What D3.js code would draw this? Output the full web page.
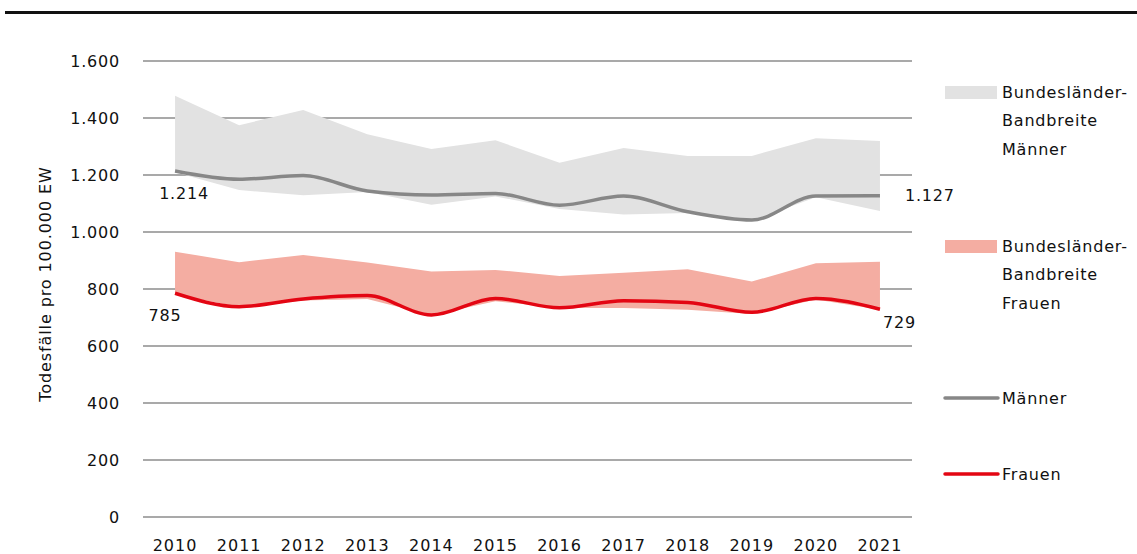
<!DOCTYPE html>
<html><head><meta charset="utf-8">
<script src="https://cdn.jsdelivr.net/npm/d3@7"></script>
<style>
html,body{margin:0;padding:0;background:#fff;}
text{font-family:"DejaVu Sans",sans-serif;fill:#111;}
</style></head>
<body><svg id="c" width="1137" height="554"></svg>
<script>
const years = [2010,2011,2012,2013,2014,2015,2016,2017,2018,2019,2020,2021];
const menUpper = [1478,1375,1428,1343,1291,1322,1243,1295,1267,1267,1329,1319];
const menLower = [1210,1147,1129,1140,1096,1125,1081,1061,1067,1040,1122,1074];
const menLine  = [1214,1185,1198,1144,1130,1135,1094,1126,1071,1042,1126,1127];
const womenUpper = [931,894,919,893,861,867,846,857,869,826,890,896];
const womenLower = [780,738,760,765,708,757,733,733,727,712,763,727];
const womenLine  = [785,738,765,777,709,767,734,759,753,718,767,729];
const yTicks = [0,200,400,600,800,1000,1200,1400,1600];
const legendItems = [
  {type:"rect", color:"#e2e2e2", lines:["Bundesländer-","Bandbreite","Männer"]},
  {type:"rect", color:"#f4ada2", lines:["Bundesländer-","Bandbreite","Frauen"]},
  {type:"line", color:"#878787", lines:["Männer"]},
  {type:"line", color:"#e30613", lines:["Frauen"]}
];

const svg = d3.select("#c");
const fmt = d3.format(",");
const de = v => fmt(v).replace(/,/g,".");

// top rule
svg.append("rect").attr("x",5).attr("y",11).attr("width",1132).attr("height",3).attr("fill","#111");

const x = d3.scalePoint().domain(years).range([143,912]).padding(0.5);
const y = d3.scaleLinear().domain([0,1600]).range([517,61]);

// gridlines
svg.append("g").selectAll("line").data(yTicks).join("line")
  .attr("x1",143).attr("x2",912).attr("y1",d=>y(d)).attr("y2",d=>y(d))
  .attr("stroke","#8c8c8c").attr("stroke-width",1.5);

// y tick labels
svg.append("g").selectAll("text").data(yTicks).join("text")
  .attr("x",120).attr("y",d=>y(d)).attr("dy","0.35em").attr("text-anchor","end")
  .attr("font-size",16).attr("letter-spacing",0.8).text(d=>de(d));

// x tick labels
svg.append("g").selectAll("text").data(years).join("text")
  .attr("x",d=>x(d)).attr("y",545).attr("dy","0.35em").attr("text-anchor","middle")
  .attr("font-size",16).attr("letter-spacing",1).text(d=>d);

// y title
svg.append("text").attr("transform","translate(51,284) rotate(-90)")
  .attr("text-anchor","middle").attr("font-size",16).attr("letter-spacing",0.9)
  .text("Todesfälle pro 100.000 EW");

const area = (lo,hi)=>d3.area().x((d,i)=>x(years[i])).y0((d,i)=>y(lo[i])).y1((d,i)=>y(hi[i]));
svg.append("path").attr("d",area(menLower,menUpper)(years)).attr("fill","#e2e2e2");
svg.append("path").attr("d",area(womenLower,womenUpper)(years)).attr("fill","#f4ada2");

const line = d3.line().x((d,i)=>x(years[i])).y(d=>y(d)).curve(d3.curveMonotoneX);
svg.append("path").attr("d",line(menLine)).attr("fill","none").attr("stroke","#878787").attr("stroke-width",3.5);
svg.append("path").attr("d",line(womenLine)).attr("fill","none").attr("stroke","#e30613").attr("stroke-width",3.5);

// data labels
const n = years.length-1;
svg.append("text").attr("x",x(years[0])+9).attr("y",y(menLine[0])+22).attr("dy","0.35em").attr("text-anchor","middle")
  .attr("font-size",16).attr("letter-spacing",0.8).text(de(menLine[0]));
svg.append("text").attr("x",x(years[0])-10).attr("y",y(womenLine[0])+22).attr("dy","0.35em").attr("text-anchor","middle")
  .attr("font-size",16).attr("letter-spacing",0.8).text(de(womenLine[0]));
svg.append("text").attr("x",x(years[n])+25).attr("y",y(menLine[n])).attr("dy","0.35em").attr("text-anchor","start")
  .attr("font-size",16).attr("letter-spacing",0.8).text(de(menLine[n]));
svg.append("text").attr("x",x(years[n])+3).attr("y",y(womenLine[n])+13).attr("dy","0.35em").attr("text-anchor","start")
  .attr("font-size",16).attr("letter-spacing",0.8).text(de(womenLine[n]));

// legend
const legY = [92,246,398,474];
legendItems.forEach((it,k)=>{
  const g = svg.append("g");
  if(it.type==="rect"){
    g.append("rect").attr("x",945).attr("y",legY[k]-6).attr("width",52).attr("height",13).attr("fill",it.color);
  } else {
    g.append("line").attr("x1",945).attr("x2",998).attr("y1",legY[k]).attr("y2",legY[k])
      .attr("stroke",it.color).attr("stroke-width",3.5).attr("stroke-linecap","round");
  }
  it.lines.forEach((t,j)=>{
    g.append("text").attr("x",1002).attr("y",legY[k]+j*28.5).attr("dy","0.35em")
      .attr("font-size",16).attr("letter-spacing",0.8).text(t);
  });
});
</script></body></html>
